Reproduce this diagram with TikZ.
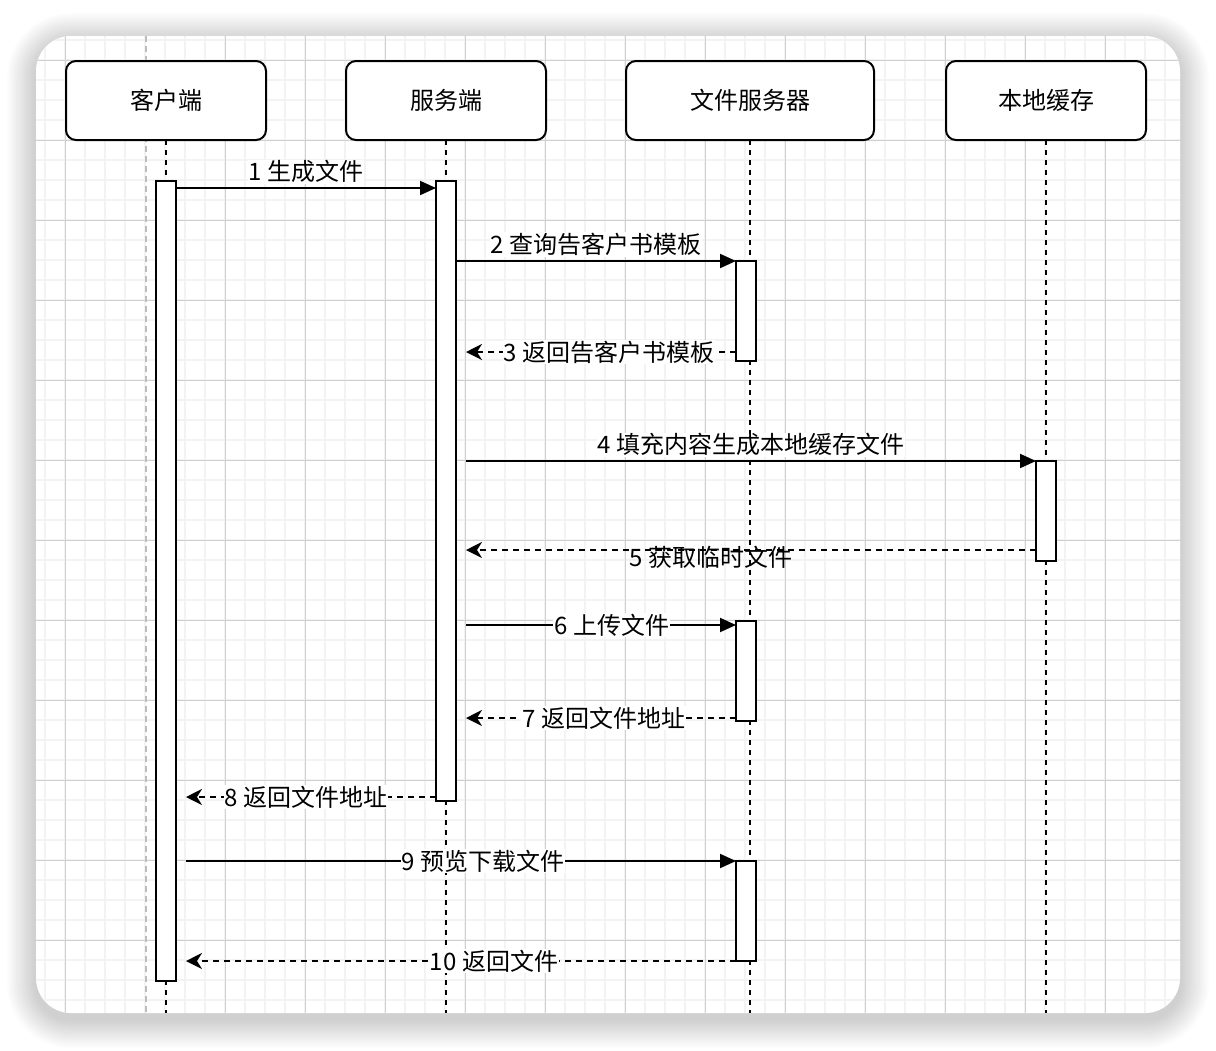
\documentclass[tikz,border=0pt]{standalone}
\usepackage{fontspec}
\setmainfont{Noto Sans CJK SC}
\usetikzlibrary{arrows.meta,positioning,calc}
\definecolor{gridminor}{HTML}{F3F3F3}
\definecolor{gridmajor}{HTML}{D0D0D0}
\definecolor{pagebreak}{HTML}{BDBDBD}
\tikzset{
  actor/.style={draw, line width=2pt, rounded corners=10pt, fill=white,
                minimum width=200pt, minimum height=79pt, inner sep=0pt,
                outer sep=0pt},
  bar/.style={draw, line width=2pt, fill=white, minimum width=20pt,
              inner sep=0pt, outer sep=0pt, anchor=north},
  life/.style={line width=2pt, dash pattern=on 5pt off 5pt},
  sig/.style={-{Triangle[length=16pt,width=14pt]}, line width=2pt},
  ret/.style={-{Stealth[length=16pt,width=16pt,inset=5pt]}, line width=2pt,
              dash pattern=on 6pt off 5pt},
  lbl/.style={fill=white, inner sep=1pt},
}
\begin{document}
\begin{tikzpicture}[x=1pt, y=-1pt, font=\fontsize{24}{28}\selectfont]
  \useasboundingbox (0,0) rectangle (1216,1050);
  \foreach \i in {1,...,16}
    \fill[black, opacity=0.010, rounded corners={(35+1.8*\i)*1pt}]
      (36-1.8*\i,42-1.8*\i) rectangle (1180+1.8*\i,1019+1.8*\i);
  \fill[white, rounded corners=35pt] (36,36) rectangle (1180,1013);
  \begin{scope}
    \clip[rounded corners=35pt] (36,36) rectangle (1180,1013);
    \foreach \x in {5,25,...,1185} \draw[gridminor, line width=1.2pt] (\x,36) -- (\x,1013);
    \foreach \y in {40,60,...,1000} \draw[gridminor, line width=1.2pt] (36,\y) -- (1180,\y);
    \foreach \x in {65,225,305,...,1105} \draw[gridmajor, line width=1pt] (\x,36) -- (\x,1013);
    \foreach \y in {60,140,...,940} \draw[gridmajor, line width=1pt] (36,\y) -- (1180,\y);
    \draw[pagebreak, line width=1.5pt, dash pattern=on 6pt off 4pt] (146,36) -- (146,1013);

    \node[actor] (cli) at (166,100.5) {客户端};
    \node[actor, right=80pt of cli] (srv) {服务端};
    \node[actor, minimum width=248pt, right=80pt of srv] (fs) {文件服务器};
    \node[actor, right=72pt of fs] (lc) {本地缓存};

    \coordinate (bot) at (0,1013);
    \foreach \a in {cli,srv,fs,lc}
      \draw[life] (\a.south) -- (\a.south |- bot);
  \end{scope}

  \node[bar, minimum height=800pt] (cb) at (cli.south |- 0,181) {};
  \node[bar, minimum height=620pt] (sb) at (srv.south |- 0,181) {};
  \node[bar, minimum height=100pt, xshift=-4pt] (f1) at (fs.south |- 0,261) {};
  \node[bar, minimum height=100pt] (lb) at (lc.south |- 0,461) {};
  \node[bar, minimum height=100pt, xshift=-4pt] (f2) at (fs.south |- 0,621) {};
  \node[bar, minimum height=100pt, xshift=-4pt] (f3) at (fs.south |- 0,861) {};

  \coordinate (p1) at (0,188);
  \coordinate (p3) at (466,352);
  \coordinate (p4) at (466,461);
  \coordinate (p5) at (466,550);
  \coordinate (p6) at (466,625);
  \coordinate (p7) at (466,718);
  \coordinate (p8) at (186,797);
  \coordinate (p9) at (186,861);
  \coordinate (p10) at (186,961);

  \draw[sig] (cb.east |- p1) -- node[lbl, above=3pt] {1 生成文件} (sb.west |- p1);
  \draw[sig] (sb.east |- f1.north) -- node[lbl, above=3pt] {2 查询告客户书模板} (f1.north west);
  \draw[ret] (f1.west |- p3) -- node[lbl, pos=0.47] {3 返回告客户书模板} (p3);
  \draw[sig] (p4) -- node[lbl, above=3pt] {4 填充内容生成本地缓存文件} (lb.north west);
  \draw[ret] (lb.west |- p5) -- node[lbl, fill=none, pos=0.57, yshift=-7pt] {5 获取临时文件} (p5);
  \draw[sig] (p6) -- node[lbl, pos=0.54] {6 上传文件} (f2.west |- p6);
  \draw[ret] (f2.west |- p7) -- node[lbl, pos=0.49] {7 返回文件地址} (p7);
  \draw[ret] (sb.west |- p8) -- node[lbl, pos=0.52] {8 返回文件地址} (p8);
  \draw[sig] (p9) -- node[lbl, pos=0.54] {9 预览下载文件} (f3.north west);
  \draw[ret] (f3.south west) -- node[lbl, pos=0.44] {10 返回文件} (p10);
\end{tikzpicture}
\end{document}
